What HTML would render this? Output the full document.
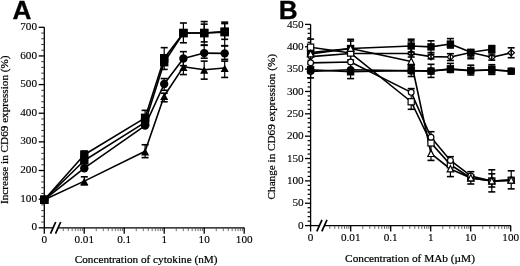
<!DOCTYPE html><html><head><meta charset="utf-8"><style>html,body{margin:0;padding:0;background:#fff;}svg{display:block;filter:grayscale(1);}</style></head><body>
<svg width="520" height="266" viewBox="0 0 520 266">
<rect width="520" height="266" fill="#fff"/>
<line x1="44.3" y1="27.3" x2="44.3" y2="233.7" stroke="#000" stroke-width="1.3"/>
<line x1="38.7" y1="227.8" x2="44.3" y2="227.8" stroke="#000" stroke-width="1.3"/>
<line x1="41.3" y1="222.07" x2="44.3" y2="222.07" stroke="#333" stroke-width="1.0"/>
<line x1="41.3" y1="216.34" x2="44.3" y2="216.34" stroke="#333" stroke-width="1.0"/>
<line x1="41.3" y1="210.61" x2="44.3" y2="210.61" stroke="#333" stroke-width="1.0"/>
<line x1="41.3" y1="204.89" x2="44.3" y2="204.89" stroke="#333" stroke-width="1.0"/>
<line x1="38.7" y1="199.16" x2="44.3" y2="199.16" stroke="#000" stroke-width="1.3"/>
<line x1="41.3" y1="193.43" x2="44.3" y2="193.43" stroke="#333" stroke-width="1.0"/>
<line x1="41.3" y1="187.7" x2="44.3" y2="187.7" stroke="#333" stroke-width="1.0"/>
<line x1="41.3" y1="181.97" x2="44.3" y2="181.97" stroke="#333" stroke-width="1.0"/>
<line x1="41.3" y1="176.24" x2="44.3" y2="176.24" stroke="#333" stroke-width="1.0"/>
<line x1="38.7" y1="170.51" x2="44.3" y2="170.51" stroke="#000" stroke-width="1.3"/>
<line x1="41.3" y1="164.79" x2="44.3" y2="164.79" stroke="#333" stroke-width="1.0"/>
<line x1="41.3" y1="159.06" x2="44.3" y2="159.06" stroke="#333" stroke-width="1.0"/>
<line x1="41.3" y1="153.33" x2="44.3" y2="153.33" stroke="#333" stroke-width="1.0"/>
<line x1="41.3" y1="147.6" x2="44.3" y2="147.6" stroke="#333" stroke-width="1.0"/>
<line x1="38.7" y1="141.87" x2="44.3" y2="141.87" stroke="#000" stroke-width="1.3"/>
<line x1="41.3" y1="136.14" x2="44.3" y2="136.14" stroke="#333" stroke-width="1.0"/>
<line x1="41.3" y1="130.41" x2="44.3" y2="130.41" stroke="#333" stroke-width="1.0"/>
<line x1="41.3" y1="124.69" x2="44.3" y2="124.69" stroke="#333" stroke-width="1.0"/>
<line x1="41.3" y1="118.96" x2="44.3" y2="118.96" stroke="#333" stroke-width="1.0"/>
<line x1="38.7" y1="113.23" x2="44.3" y2="113.23" stroke="#000" stroke-width="1.3"/>
<line x1="41.3" y1="107.5" x2="44.3" y2="107.5" stroke="#333" stroke-width="1.0"/>
<line x1="41.3" y1="101.77" x2="44.3" y2="101.77" stroke="#333" stroke-width="1.0"/>
<line x1="41.3" y1="96.04" x2="44.3" y2="96.04" stroke="#333" stroke-width="1.0"/>
<line x1="41.3" y1="90.31" x2="44.3" y2="90.31" stroke="#333" stroke-width="1.0"/>
<line x1="38.7" y1="84.59" x2="44.3" y2="84.59" stroke="#000" stroke-width="1.3"/>
<line x1="41.3" y1="78.86" x2="44.3" y2="78.86" stroke="#333" stroke-width="1.0"/>
<line x1="41.3" y1="73.13" x2="44.3" y2="73.13" stroke="#333" stroke-width="1.0"/>
<line x1="41.3" y1="67.4" x2="44.3" y2="67.4" stroke="#333" stroke-width="1.0"/>
<line x1="41.3" y1="61.67" x2="44.3" y2="61.67" stroke="#333" stroke-width="1.0"/>
<line x1="38.7" y1="55.94" x2="44.3" y2="55.94" stroke="#000" stroke-width="1.3"/>
<line x1="41.3" y1="50.21" x2="44.3" y2="50.21" stroke="#333" stroke-width="1.0"/>
<line x1="41.3" y1="44.49" x2="44.3" y2="44.49" stroke="#333" stroke-width="1.0"/>
<line x1="41.3" y1="38.76" x2="44.3" y2="38.76" stroke="#333" stroke-width="1.0"/>
<line x1="41.3" y1="33.03" x2="44.3" y2="33.03" stroke="#333" stroke-width="1.0"/>
<line x1="38.7" y1="27.3" x2="44.3" y2="27.3" stroke="#000" stroke-width="1.3"/>
<text transform="translate(37,230.4) scale(0.1)" text-anchor="end" font-family="Liberation Serif" font-weight="normal" font-size="112" stroke="#000" stroke-width="1.2">0</text>
<text transform="translate(37,201.76) scale(0.1)" text-anchor="end" font-family="Liberation Serif" font-weight="normal" font-size="112" stroke="#000" stroke-width="1.2">100</text>
<text transform="translate(37,173.11) scale(0.1)" text-anchor="end" font-family="Liberation Serif" font-weight="normal" font-size="112" stroke="#000" stroke-width="1.2">200</text>
<text transform="translate(37,144.47) scale(0.1)" text-anchor="end" font-family="Liberation Serif" font-weight="normal" font-size="112" stroke="#000" stroke-width="1.2">300</text>
<text transform="translate(37,115.83) scale(0.1)" text-anchor="end" font-family="Liberation Serif" font-weight="normal" font-size="112" stroke="#000" stroke-width="1.2">400</text>
<text transform="translate(37,87.19) scale(0.1)" text-anchor="end" font-family="Liberation Serif" font-weight="normal" font-size="112" stroke="#000" stroke-width="1.2">500</text>
<text transform="translate(37,58.54) scale(0.1)" text-anchor="end" font-family="Liberation Serif" font-weight="normal" font-size="112" stroke="#000" stroke-width="1.2">600</text>
<text transform="translate(37,29.9) scale(0.1)" text-anchor="end" font-family="Liberation Serif" font-weight="normal" font-size="112" stroke="#000" stroke-width="1.2">700</text>
<line x1="44.3" y1="227.8" x2="53" y2="227.8" stroke="#000" stroke-width="1.3"/>
<line x1="58" y1="227.8" x2="244.4" y2="227.8" stroke="#000" stroke-width="1.3"/>
<line x1="50.5" y1="233.6" x2="55.7" y2="222" stroke="#000" stroke-width="1.7"/>
<line x1="55.5" y1="233.6" x2="60.7" y2="222" stroke="#000" stroke-width="1.7"/>
<line x1="63.28" y1="227.8" x2="63.28" y2="231.1" stroke="#444" stroke-width="0.8"/>
<line x1="68.28" y1="227.8" x2="68.28" y2="231.1" stroke="#444" stroke-width="0.8"/>
<line x1="72.16" y1="227.8" x2="72.16" y2="231.1" stroke="#444" stroke-width="0.8"/>
<line x1="75.33" y1="227.8" x2="75.33" y2="231.1" stroke="#444" stroke-width="0.8"/>
<line x1="78" y1="227.8" x2="78" y2="231.1" stroke="#444" stroke-width="0.8"/>
<line x1="80.32" y1="227.8" x2="80.32" y2="231.1" stroke="#444" stroke-width="0.8"/>
<line x1="82.37" y1="227.8" x2="82.37" y2="231.1" stroke="#444" stroke-width="0.8"/>
<line x1="84.2" y1="227.8" x2="84.2" y2="233.7" stroke="#000" stroke-width="1.3"/>
<line x1="96.24" y1="227.8" x2="96.24" y2="231.1" stroke="#444" stroke-width="0.8"/>
<line x1="103.28" y1="227.8" x2="103.28" y2="231.1" stroke="#444" stroke-width="0.8"/>
<line x1="108.28" y1="227.8" x2="108.28" y2="231.1" stroke="#444" stroke-width="0.8"/>
<line x1="112.16" y1="227.8" x2="112.16" y2="231.1" stroke="#444" stroke-width="0.8"/>
<line x1="115.33" y1="227.8" x2="115.33" y2="231.1" stroke="#444" stroke-width="0.8"/>
<line x1="118" y1="227.8" x2="118" y2="231.1" stroke="#444" stroke-width="0.8"/>
<line x1="120.32" y1="227.8" x2="120.32" y2="231.1" stroke="#444" stroke-width="0.8"/>
<line x1="122.37" y1="227.8" x2="122.37" y2="231.1" stroke="#444" stroke-width="0.8"/>
<line x1="124.2" y1="227.8" x2="124.2" y2="233.7" stroke="#000" stroke-width="1.3"/>
<line x1="136.24" y1="227.8" x2="136.24" y2="231.1" stroke="#444" stroke-width="0.8"/>
<line x1="143.28" y1="227.8" x2="143.28" y2="231.1" stroke="#444" stroke-width="0.8"/>
<line x1="148.28" y1="227.8" x2="148.28" y2="231.1" stroke="#444" stroke-width="0.8"/>
<line x1="152.16" y1="227.8" x2="152.16" y2="231.1" stroke="#444" stroke-width="0.8"/>
<line x1="155.33" y1="227.8" x2="155.33" y2="231.1" stroke="#444" stroke-width="0.8"/>
<line x1="158" y1="227.8" x2="158" y2="231.1" stroke="#444" stroke-width="0.8"/>
<line x1="160.32" y1="227.8" x2="160.32" y2="231.1" stroke="#444" stroke-width="0.8"/>
<line x1="162.37" y1="227.8" x2="162.37" y2="231.1" stroke="#444" stroke-width="0.8"/>
<line x1="164.2" y1="227.8" x2="164.2" y2="233.7" stroke="#000" stroke-width="1.3"/>
<line x1="176.24" y1="227.8" x2="176.24" y2="231.1" stroke="#444" stroke-width="0.8"/>
<line x1="183.28" y1="227.8" x2="183.28" y2="231.1" stroke="#444" stroke-width="0.8"/>
<line x1="188.28" y1="227.8" x2="188.28" y2="231.1" stroke="#444" stroke-width="0.8"/>
<line x1="192.16" y1="227.8" x2="192.16" y2="231.1" stroke="#444" stroke-width="0.8"/>
<line x1="195.33" y1="227.8" x2="195.33" y2="231.1" stroke="#444" stroke-width="0.8"/>
<line x1="198" y1="227.8" x2="198" y2="231.1" stroke="#444" stroke-width="0.8"/>
<line x1="200.32" y1="227.8" x2="200.32" y2="231.1" stroke="#444" stroke-width="0.8"/>
<line x1="202.37" y1="227.8" x2="202.37" y2="231.1" stroke="#444" stroke-width="0.8"/>
<line x1="204.2" y1="227.8" x2="204.2" y2="233.7" stroke="#000" stroke-width="1.3"/>
<line x1="216.24" y1="227.8" x2="216.24" y2="231.1" stroke="#444" stroke-width="0.8"/>
<line x1="223.28" y1="227.8" x2="223.28" y2="231.1" stroke="#444" stroke-width="0.8"/>
<line x1="228.28" y1="227.8" x2="228.28" y2="231.1" stroke="#444" stroke-width="0.8"/>
<line x1="232.16" y1="227.8" x2="232.16" y2="231.1" stroke="#444" stroke-width="0.8"/>
<line x1="235.33" y1="227.8" x2="235.33" y2="231.1" stroke="#444" stroke-width="0.8"/>
<line x1="238" y1="227.8" x2="238" y2="231.1" stroke="#444" stroke-width="0.8"/>
<line x1="240.32" y1="227.8" x2="240.32" y2="231.1" stroke="#444" stroke-width="0.8"/>
<line x1="242.37" y1="227.8" x2="242.37" y2="231.1" stroke="#444" stroke-width="0.8"/>
<line x1="244.2" y1="227.8" x2="244.2" y2="233.7" stroke="#000" stroke-width="1.3"/>
<text transform="translate(44.3,243.3) scale(0.1)" text-anchor="middle" font-family="Liberation Serif" font-weight="normal" font-size="112" stroke="#000" stroke-width="1.2">0</text>
<text transform="translate(84.2,243.3) scale(0.1)" text-anchor="middle" font-family="Liberation Serif" font-weight="normal" font-size="112" stroke="#000" stroke-width="1.2">0.01</text>
<text transform="translate(124.2,243.3) scale(0.1)" text-anchor="middle" font-family="Liberation Serif" font-weight="normal" font-size="112" stroke="#000" stroke-width="1.2">0.1</text>
<text transform="translate(164.2,243.3) scale(0.1)" text-anchor="middle" font-family="Liberation Serif" font-weight="normal" font-size="112" stroke="#000" stroke-width="1.2">1</text>
<text transform="translate(204.2,243.3) scale(0.1)" text-anchor="middle" font-family="Liberation Serif" font-weight="normal" font-size="112" stroke="#000" stroke-width="1.2">10</text>
<text transform="translate(244.2,243.3) scale(0.1)" text-anchor="middle" font-family="Liberation Serif" font-weight="normal" font-size="112" stroke="#000" stroke-width="1.2">100</text>
<text transform="translate(146.1,263) scale(0.1)" text-anchor="middle" font-family="Liberation Serif" font-weight="normal" font-size="112" stroke="#000" stroke-width="2.2">Concentration of cytokine (nM)</text>
<text transform="translate(8.2,129.7) rotate(-90) scale(0.1)" text-anchor="middle" font-family="Liberation Serif" font-weight="normal" font-size="112" stroke="#000" stroke-width="2.2">Increase in CD69 expression (%)</text>
<text transform="translate(12.4,18.6) scale(0.1)" text-anchor="start" font-family="Liberation Sans" font-weight="bold" font-size="262" stroke="#000" stroke-width="3">A</text>
<polyline points="44.3,199.73 84.3,154.76 145.1,117.81 164.2,58.23 183.4,33.03 204.2,33.03 224.7,31.6" fill="none" stroke="#000" stroke-width="1.6" stroke-linejoin="round"/>
<polyline points="44.3,199.73 84.3,160.49 145.1,122.39 164.2,62.24 183.4,33.03 204.2,33.03 224.7,32.17" fill="none" stroke="#000" stroke-width="1.6" stroke-linejoin="round"/>
<polyline points="44.3,199.73 84.3,168.22 145.1,125.55 164.2,84.01 183.4,58.52 204.2,53.08 224.7,53.37" fill="none" stroke="#000" stroke-width="1.6" stroke-linejoin="round"/>
<polyline points="44.3,199.73 84.3,181.11 145.1,151.32 164.2,96.04 183.4,66.83 204.2,69.69 224.7,67.97" fill="none" stroke="#000" stroke-width="1.6" stroke-linejoin="round"/>
<line x1="84.3" y1="151.04" x2="84.3" y2="159.06" stroke="#000" stroke-width="1.2"/>
<line x1="80.8" y1="151.04" x2="87.8" y2="151.04" stroke="#000" stroke-width="1.6"/>
<line x1="80.8" y1="159.06" x2="87.8" y2="159.06" stroke="#000" stroke-width="1.6"/>
<line x1="145.1" y1="110.36" x2="145.1" y2="121.82" stroke="#000" stroke-width="1.2"/>
<line x1="141.6" y1="110.36" x2="148.6" y2="110.36" stroke="#000" stroke-width="1.6"/>
<line x1="141.6" y1="121.82" x2="148.6" y2="121.82" stroke="#000" stroke-width="1.6"/>
<line x1="164.2" y1="47.64" x2="164.2" y2="64.54" stroke="#000" stroke-width="1.2"/>
<line x1="160.7" y1="47.64" x2="167.7" y2="47.64" stroke="#000" stroke-width="1.6"/>
<line x1="160.7" y1="64.54" x2="167.7" y2="64.54" stroke="#000" stroke-width="1.6"/>
<line x1="183.4" y1="23" x2="183.4" y2="42.77" stroke="#000" stroke-width="1.2"/>
<line x1="179.9" y1="23" x2="186.9" y2="23" stroke="#000" stroke-width="1.6"/>
<line x1="179.9" y1="42.77" x2="186.9" y2="42.77" stroke="#000" stroke-width="1.6"/>
<line x1="204.2" y1="21.57" x2="204.2" y2="41.91" stroke="#000" stroke-width="1.2"/>
<line x1="200.7" y1="21.57" x2="207.7" y2="21.57" stroke="#000" stroke-width="1.6"/>
<line x1="200.7" y1="41.91" x2="207.7" y2="41.91" stroke="#000" stroke-width="1.6"/>
<line x1="224.7" y1="22.14" x2="224.7" y2="39.33" stroke="#000" stroke-width="1.2"/>
<line x1="221.2" y1="22.14" x2="228.2" y2="22.14" stroke="#000" stroke-width="1.6"/>
<line x1="221.2" y1="39.33" x2="228.2" y2="39.33" stroke="#000" stroke-width="1.6"/>
<line x1="164.2" y1="55.94" x2="164.2" y2="69.41" stroke="#000" stroke-width="1.2"/>
<line x1="160.7" y1="55.94" x2="167.7" y2="55.94" stroke="#000" stroke-width="1.6"/>
<line x1="160.7" y1="69.41" x2="167.7" y2="69.41" stroke="#000" stroke-width="1.6"/>
<line x1="204.2" y1="24.15" x2="204.2" y2="45.34" stroke="#000" stroke-width="1.2"/>
<line x1="200.7" y1="24.15" x2="207.7" y2="24.15" stroke="#000" stroke-width="1.6"/>
<line x1="200.7" y1="45.34" x2="207.7" y2="45.34" stroke="#000" stroke-width="1.6"/>
<line x1="224.7" y1="23.58" x2="224.7" y2="45.63" stroke="#000" stroke-width="1.2"/>
<line x1="221.2" y1="23.58" x2="228.2" y2="23.58" stroke="#000" stroke-width="1.6"/>
<line x1="221.2" y1="45.63" x2="228.2" y2="45.63" stroke="#000" stroke-width="1.6"/>
<line x1="164.2" y1="78.57" x2="164.2" y2="90.31" stroke="#000" stroke-width="1.2"/>
<line x1="160.7" y1="78.57" x2="167.7" y2="78.57" stroke="#000" stroke-width="1.6"/>
<line x1="160.7" y1="90.31" x2="167.7" y2="90.31" stroke="#000" stroke-width="1.6"/>
<line x1="183.4" y1="51.65" x2="183.4" y2="65.68" stroke="#000" stroke-width="1.2"/>
<line x1="179.9" y1="51.65" x2="186.9" y2="51.65" stroke="#000" stroke-width="1.6"/>
<line x1="179.9" y1="65.68" x2="186.9" y2="65.68" stroke="#000" stroke-width="1.6"/>
<line x1="204.2" y1="45.06" x2="204.2" y2="58.23" stroke="#000" stroke-width="1.2"/>
<line x1="200.7" y1="45.06" x2="207.7" y2="45.06" stroke="#000" stroke-width="1.6"/>
<line x1="200.7" y1="58.23" x2="207.7" y2="58.23" stroke="#000" stroke-width="1.6"/>
<line x1="224.7" y1="45.92" x2="224.7" y2="59.38" stroke="#000" stroke-width="1.2"/>
<line x1="221.2" y1="45.92" x2="228.2" y2="45.92" stroke="#000" stroke-width="1.6"/>
<line x1="221.2" y1="59.38" x2="228.2" y2="59.38" stroke="#000" stroke-width="1.6"/>
<line x1="84.3" y1="176.82" x2="84.3" y2="184.84" stroke="#000" stroke-width="1.2"/>
<line x1="80.8" y1="176.82" x2="87.8" y2="176.82" stroke="#000" stroke-width="1.6"/>
<line x1="80.8" y1="184.84" x2="87.8" y2="184.84" stroke="#000" stroke-width="1.6"/>
<line x1="145.1" y1="144.74" x2="145.1" y2="157.62" stroke="#000" stroke-width="1.2"/>
<line x1="141.6" y1="144.74" x2="148.6" y2="144.74" stroke="#000" stroke-width="1.6"/>
<line x1="141.6" y1="157.62" x2="148.6" y2="157.62" stroke="#000" stroke-width="1.6"/>
<line x1="164.2" y1="93.18" x2="164.2" y2="101.77" stroke="#000" stroke-width="1.2"/>
<line x1="160.7" y1="93.18" x2="167.7" y2="93.18" stroke="#000" stroke-width="1.6"/>
<line x1="160.7" y1="101.77" x2="167.7" y2="101.77" stroke="#000" stroke-width="1.6"/>
<line x1="183.4" y1="60.24" x2="183.4" y2="74.56" stroke="#000" stroke-width="1.2"/>
<line x1="179.9" y1="60.24" x2="186.9" y2="60.24" stroke="#000" stroke-width="1.6"/>
<line x1="179.9" y1="74.56" x2="186.9" y2="74.56" stroke="#000" stroke-width="1.6"/>
<line x1="204.2" y1="61.1" x2="204.2" y2="79.14" stroke="#000" stroke-width="1.2"/>
<line x1="200.7" y1="61.1" x2="207.7" y2="61.1" stroke="#000" stroke-width="1.6"/>
<line x1="200.7" y1="79.14" x2="207.7" y2="79.14" stroke="#000" stroke-width="1.6"/>
<line x1="224.7" y1="61.1" x2="224.7" y2="77.43" stroke="#000" stroke-width="1.2"/>
<line x1="221.2" y1="61.1" x2="228.2" y2="61.1" stroke="#000" stroke-width="1.6"/>
<line x1="221.2" y1="77.43" x2="228.2" y2="77.43" stroke="#000" stroke-width="1.6"/>
<rect x="40.1" y="195.53" width="8.4" height="8.4" fill="#000"/>
<rect x="80.1" y="150.56" width="8.4" height="8.4" fill="#000"/>
<rect x="140.9" y="113.61" width="8.4" height="8.4" fill="#000"/>
<rect x="160" y="54.03" width="8.4" height="8.4" fill="#000"/>
<rect x="179.2" y="28.83" width="8.4" height="8.4" fill="#000"/>
<rect x="200" y="28.83" width="8.4" height="8.4" fill="#000"/>
<rect x="220.5" y="27.4" width="8.4" height="8.4" fill="#000"/>
<rect x="40.1" y="195.53" width="8.4" height="8.4" fill="#000"/>
<rect x="80.1" y="156.29" width="8.4" height="8.4" fill="#000"/>
<rect x="140.9" y="118.19" width="8.4" height="8.4" fill="#000"/>
<rect x="160" y="58.04" width="8.4" height="8.4" fill="#000"/>
<rect x="179.2" y="28.83" width="8.4" height="8.4" fill="#000"/>
<rect x="200" y="28.83" width="8.4" height="8.4" fill="#000"/>
<rect x="220.5" y="27.97" width="8.4" height="8.4" fill="#000"/>
<circle cx="44.3" cy="199.73" r="4.2" fill="#000"/>
<circle cx="84.3" cy="168.22" r="4.2" fill="#000"/>
<circle cx="145.1" cy="125.55" r="4.2" fill="#000"/>
<circle cx="164.2" cy="84.01" r="4.2" fill="#000"/>
<circle cx="183.4" cy="58.52" r="4.2" fill="#000"/>
<circle cx="204.2" cy="53.08" r="4.2" fill="#000"/>
<circle cx="224.7" cy="53.37" r="4.2" fill="#000"/>
<polygon points="44.3,196.4 48.37,203.8 40.23,203.8" fill="#000"/>
<polygon points="84.3,177.78 88.37,185.18 80.23,185.18" fill="#000"/>
<polygon points="145.1,147.99 149.17,155.39 141.03,155.39" fill="#000"/>
<polygon points="164.2,92.71 168.27,100.11 160.13,100.11" fill="#000"/>
<polygon points="183.4,63.5 187.47,70.9 179.33,70.9" fill="#000"/>
<polygon points="204.2,66.36 208.27,73.76 200.13,73.76" fill="#000"/>
<polygon points="224.7,64.64 228.77,72.04 220.63,72.04" fill="#000"/>
<line x1="310.6" y1="24.4" x2="310.6" y2="231.5" stroke="#000" stroke-width="1.3"/>
<line x1="305" y1="225.6" x2="310.6" y2="225.6" stroke="#000" stroke-width="1.3"/>
<line x1="307.6" y1="221.13" x2="310.6" y2="221.13" stroke="#000" stroke-width="1.2"/>
<line x1="307.6" y1="216.66" x2="310.6" y2="216.66" stroke="#000" stroke-width="1.2"/>
<line x1="307.6" y1="212.19" x2="310.6" y2="212.19" stroke="#000" stroke-width="1.2"/>
<line x1="307.6" y1="207.72" x2="310.6" y2="207.72" stroke="#000" stroke-width="1.2"/>
<line x1="305" y1="203.24" x2="310.6" y2="203.24" stroke="#000" stroke-width="1.3"/>
<line x1="307.6" y1="198.77" x2="310.6" y2="198.77" stroke="#000" stroke-width="1.2"/>
<line x1="307.6" y1="194.3" x2="310.6" y2="194.3" stroke="#000" stroke-width="1.2"/>
<line x1="307.6" y1="189.83" x2="310.6" y2="189.83" stroke="#000" stroke-width="1.2"/>
<line x1="307.6" y1="185.36" x2="310.6" y2="185.36" stroke="#000" stroke-width="1.2"/>
<line x1="305" y1="180.89" x2="310.6" y2="180.89" stroke="#000" stroke-width="1.3"/>
<line x1="307.6" y1="176.42" x2="310.6" y2="176.42" stroke="#000" stroke-width="1.2"/>
<line x1="307.6" y1="171.95" x2="310.6" y2="171.95" stroke="#000" stroke-width="1.2"/>
<line x1="307.6" y1="167.48" x2="310.6" y2="167.48" stroke="#000" stroke-width="1.2"/>
<line x1="307.6" y1="163" x2="310.6" y2="163" stroke="#000" stroke-width="1.2"/>
<line x1="305" y1="158.53" x2="310.6" y2="158.53" stroke="#000" stroke-width="1.3"/>
<line x1="307.6" y1="154.06" x2="310.6" y2="154.06" stroke="#000" stroke-width="1.2"/>
<line x1="307.6" y1="149.59" x2="310.6" y2="149.59" stroke="#000" stroke-width="1.2"/>
<line x1="307.6" y1="145.12" x2="310.6" y2="145.12" stroke="#000" stroke-width="1.2"/>
<line x1="307.6" y1="140.65" x2="310.6" y2="140.65" stroke="#000" stroke-width="1.2"/>
<line x1="305" y1="136.18" x2="310.6" y2="136.18" stroke="#000" stroke-width="1.3"/>
<line x1="307.6" y1="131.71" x2="310.6" y2="131.71" stroke="#000" stroke-width="1.2"/>
<line x1="307.6" y1="127.24" x2="310.6" y2="127.24" stroke="#000" stroke-width="1.2"/>
<line x1="307.6" y1="122.76" x2="310.6" y2="122.76" stroke="#000" stroke-width="1.2"/>
<line x1="307.6" y1="118.29" x2="310.6" y2="118.29" stroke="#000" stroke-width="1.2"/>
<line x1="305" y1="113.82" x2="310.6" y2="113.82" stroke="#000" stroke-width="1.3"/>
<line x1="307.6" y1="109.35" x2="310.6" y2="109.35" stroke="#000" stroke-width="1.2"/>
<line x1="307.6" y1="104.88" x2="310.6" y2="104.88" stroke="#000" stroke-width="1.2"/>
<line x1="307.6" y1="100.41" x2="310.6" y2="100.41" stroke="#000" stroke-width="1.2"/>
<line x1="307.6" y1="95.94" x2="310.6" y2="95.94" stroke="#000" stroke-width="1.2"/>
<line x1="305" y1="91.47" x2="310.6" y2="91.47" stroke="#000" stroke-width="1.3"/>
<line x1="307.6" y1="87" x2="310.6" y2="87" stroke="#000" stroke-width="1.2"/>
<line x1="307.6" y1="82.52" x2="310.6" y2="82.52" stroke="#000" stroke-width="1.2"/>
<line x1="307.6" y1="78.05" x2="310.6" y2="78.05" stroke="#000" stroke-width="1.2"/>
<line x1="307.6" y1="73.58" x2="310.6" y2="73.58" stroke="#000" stroke-width="1.2"/>
<line x1="305" y1="69.11" x2="310.6" y2="69.11" stroke="#000" stroke-width="1.3"/>
<line x1="307.6" y1="64.64" x2="310.6" y2="64.64" stroke="#000" stroke-width="1.2"/>
<line x1="307.6" y1="60.17" x2="310.6" y2="60.17" stroke="#000" stroke-width="1.2"/>
<line x1="307.6" y1="55.7" x2="310.6" y2="55.7" stroke="#000" stroke-width="1.2"/>
<line x1="307.6" y1="51.23" x2="310.6" y2="51.23" stroke="#000" stroke-width="1.2"/>
<line x1="305" y1="46.76" x2="310.6" y2="46.76" stroke="#000" stroke-width="1.3"/>
<line x1="307.6" y1="42.28" x2="310.6" y2="42.28" stroke="#000" stroke-width="1.2"/>
<line x1="307.6" y1="37.81" x2="310.6" y2="37.81" stroke="#000" stroke-width="1.2"/>
<line x1="307.6" y1="33.34" x2="310.6" y2="33.34" stroke="#000" stroke-width="1.2"/>
<line x1="307.6" y1="28.87" x2="310.6" y2="28.87" stroke="#000" stroke-width="1.2"/>
<line x1="305" y1="24.4" x2="310.6" y2="24.4" stroke="#000" stroke-width="1.3"/>
<text transform="translate(303.7,228.7) scale(0.1)" text-anchor="end" font-family="Liberation Serif" font-weight="normal" font-size="112" stroke="#000" stroke-width="1.2">0</text>
<text transform="translate(303.7,206.34) scale(0.1)" text-anchor="end" font-family="Liberation Serif" font-weight="normal" font-size="112" stroke="#000" stroke-width="1.2">50</text>
<text transform="translate(303.7,183.99) scale(0.1)" text-anchor="end" font-family="Liberation Serif" font-weight="normal" font-size="112" stroke="#000" stroke-width="1.2">100</text>
<text transform="translate(303.7,161.63) scale(0.1)" text-anchor="end" font-family="Liberation Serif" font-weight="normal" font-size="112" stroke="#000" stroke-width="1.2">150</text>
<text transform="translate(303.7,139.28) scale(0.1)" text-anchor="end" font-family="Liberation Serif" font-weight="normal" font-size="112" stroke="#000" stroke-width="1.2">200</text>
<text transform="translate(303.7,116.92) scale(0.1)" text-anchor="end" font-family="Liberation Serif" font-weight="normal" font-size="112" stroke="#000" stroke-width="1.2">250</text>
<text transform="translate(303.7,94.57) scale(0.1)" text-anchor="end" font-family="Liberation Serif" font-weight="normal" font-size="112" stroke="#000" stroke-width="1.2">300</text>
<text transform="translate(303.7,72.21) scale(0.1)" text-anchor="end" font-family="Liberation Serif" font-weight="normal" font-size="112" stroke="#000" stroke-width="1.2">350</text>
<text transform="translate(303.7,49.86) scale(0.1)" text-anchor="end" font-family="Liberation Serif" font-weight="normal" font-size="112" stroke="#000" stroke-width="1.2">400</text>
<text transform="translate(303.7,27.5) scale(0.1)" text-anchor="end" font-family="Liberation Serif" font-weight="normal" font-size="112" stroke="#000" stroke-width="1.2">450</text>
<line x1="310.6" y1="225.6" x2="319.3" y2="225.6" stroke="#000" stroke-width="1.3"/>
<line x1="324.3" y1="225.6" x2="510.8" y2="225.6" stroke="#000" stroke-width="1.3"/>
<line x1="316.8" y1="231.4" x2="322" y2="219.8" stroke="#000" stroke-width="1.7"/>
<line x1="321.8" y1="231.4" x2="327" y2="219.8" stroke="#000" stroke-width="1.7"/>
<line x1="329.78" y1="225.6" x2="329.78" y2="228.9" stroke="#444" stroke-width="0.8"/>
<line x1="334.78" y1="225.6" x2="334.78" y2="228.9" stroke="#444" stroke-width="0.8"/>
<line x1="338.66" y1="225.6" x2="338.66" y2="228.9" stroke="#444" stroke-width="0.8"/>
<line x1="341.83" y1="225.6" x2="341.83" y2="228.9" stroke="#444" stroke-width="0.8"/>
<line x1="344.5" y1="225.6" x2="344.5" y2="228.9" stroke="#444" stroke-width="0.8"/>
<line x1="346.82" y1="225.6" x2="346.82" y2="228.9" stroke="#444" stroke-width="0.8"/>
<line x1="348.87" y1="225.6" x2="348.87" y2="228.9" stroke="#444" stroke-width="0.8"/>
<line x1="350.7" y1="225.6" x2="350.7" y2="231.5" stroke="#000" stroke-width="1.3"/>
<line x1="362.74" y1="225.6" x2="362.74" y2="228.9" stroke="#444" stroke-width="0.8"/>
<line x1="369.78" y1="225.6" x2="369.78" y2="228.9" stroke="#444" stroke-width="0.8"/>
<line x1="374.78" y1="225.6" x2="374.78" y2="228.9" stroke="#444" stroke-width="0.8"/>
<line x1="378.66" y1="225.6" x2="378.66" y2="228.9" stroke="#444" stroke-width="0.8"/>
<line x1="381.83" y1="225.6" x2="381.83" y2="228.9" stroke="#444" stroke-width="0.8"/>
<line x1="384.5" y1="225.6" x2="384.5" y2="228.9" stroke="#444" stroke-width="0.8"/>
<line x1="386.82" y1="225.6" x2="386.82" y2="228.9" stroke="#444" stroke-width="0.8"/>
<line x1="388.87" y1="225.6" x2="388.87" y2="228.9" stroke="#444" stroke-width="0.8"/>
<line x1="390.7" y1="225.6" x2="390.7" y2="231.5" stroke="#000" stroke-width="1.3"/>
<line x1="402.74" y1="225.6" x2="402.74" y2="228.9" stroke="#444" stroke-width="0.8"/>
<line x1="409.78" y1="225.6" x2="409.78" y2="228.9" stroke="#444" stroke-width="0.8"/>
<line x1="414.78" y1="225.6" x2="414.78" y2="228.9" stroke="#444" stroke-width="0.8"/>
<line x1="418.66" y1="225.6" x2="418.66" y2="228.9" stroke="#444" stroke-width="0.8"/>
<line x1="421.83" y1="225.6" x2="421.83" y2="228.9" stroke="#444" stroke-width="0.8"/>
<line x1="424.5" y1="225.6" x2="424.5" y2="228.9" stroke="#444" stroke-width="0.8"/>
<line x1="426.82" y1="225.6" x2="426.82" y2="228.9" stroke="#444" stroke-width="0.8"/>
<line x1="428.87" y1="225.6" x2="428.87" y2="228.9" stroke="#444" stroke-width="0.8"/>
<line x1="430.7" y1="225.6" x2="430.7" y2="231.5" stroke="#000" stroke-width="1.3"/>
<line x1="442.74" y1="225.6" x2="442.74" y2="228.9" stroke="#444" stroke-width="0.8"/>
<line x1="449.78" y1="225.6" x2="449.78" y2="228.9" stroke="#444" stroke-width="0.8"/>
<line x1="454.78" y1="225.6" x2="454.78" y2="228.9" stroke="#444" stroke-width="0.8"/>
<line x1="458.66" y1="225.6" x2="458.66" y2="228.9" stroke="#444" stroke-width="0.8"/>
<line x1="461.83" y1="225.6" x2="461.83" y2="228.9" stroke="#444" stroke-width="0.8"/>
<line x1="464.5" y1="225.6" x2="464.5" y2="228.9" stroke="#444" stroke-width="0.8"/>
<line x1="466.82" y1="225.6" x2="466.82" y2="228.9" stroke="#444" stroke-width="0.8"/>
<line x1="468.87" y1="225.6" x2="468.87" y2="228.9" stroke="#444" stroke-width="0.8"/>
<line x1="470.7" y1="225.6" x2="470.7" y2="231.5" stroke="#000" stroke-width="1.3"/>
<line x1="482.74" y1="225.6" x2="482.74" y2="228.9" stroke="#444" stroke-width="0.8"/>
<line x1="489.78" y1="225.6" x2="489.78" y2="228.9" stroke="#444" stroke-width="0.8"/>
<line x1="494.78" y1="225.6" x2="494.78" y2="228.9" stroke="#444" stroke-width="0.8"/>
<line x1="498.66" y1="225.6" x2="498.66" y2="228.9" stroke="#444" stroke-width="0.8"/>
<line x1="501.83" y1="225.6" x2="501.83" y2="228.9" stroke="#444" stroke-width="0.8"/>
<line x1="504.5" y1="225.6" x2="504.5" y2="228.9" stroke="#444" stroke-width="0.8"/>
<line x1="506.82" y1="225.6" x2="506.82" y2="228.9" stroke="#444" stroke-width="0.8"/>
<line x1="508.87" y1="225.6" x2="508.87" y2="228.9" stroke="#444" stroke-width="0.8"/>
<line x1="510.7" y1="225.6" x2="510.7" y2="231.5" stroke="#000" stroke-width="1.3"/>
<text transform="translate(310.6,241.1) scale(0.1)" text-anchor="middle" font-family="Liberation Serif" font-weight="normal" font-size="112" stroke="#000" stroke-width="1.2">0</text>
<text transform="translate(350.7,241.1) scale(0.1)" text-anchor="middle" font-family="Liberation Serif" font-weight="normal" font-size="112" stroke="#000" stroke-width="1.2">0.01</text>
<text transform="translate(390.7,241.1) scale(0.1)" text-anchor="middle" font-family="Liberation Serif" font-weight="normal" font-size="112" stroke="#000" stroke-width="1.2">0.1</text>
<text transform="translate(430.7,241.1) scale(0.1)" text-anchor="middle" font-family="Liberation Serif" font-weight="normal" font-size="112" stroke="#000" stroke-width="1.2">1</text>
<text transform="translate(470.7,241.1) scale(0.1)" text-anchor="middle" font-family="Liberation Serif" font-weight="normal" font-size="112" stroke="#000" stroke-width="1.2">10</text>
<text transform="translate(510.7,241.1) scale(0.1)" text-anchor="middle" font-family="Liberation Serif" font-weight="normal" font-size="112" stroke="#000" stroke-width="1.2">100</text>
<text transform="translate(410,262.3) scale(0.1)" text-anchor="middle" font-family="Liberation Serif" font-weight="normal" font-size="113" stroke="#000" stroke-width="2.2">Concentration of MAb (µM)</text>
<text transform="translate(275.2,126.7) rotate(-90) scale(0.1)" text-anchor="middle" font-family="Liberation Serif" font-weight="normal" font-size="112" stroke="#000" stroke-width="2.2">Change in CD69 expression (%)</text>
<text transform="translate(278.8,18.6) scale(0.1)" text-anchor="start" font-family="Liberation Sans" font-weight="bold" font-size="262" stroke="#000" stroke-width="3">B</text>
<polyline points="310.6,52.57 350.6,48.54 411.2,46 431,46.89 450.4,44.07 470.8,52.3 491.8,49.21" fill="none" stroke="#000" stroke-width="1.6" stroke-linejoin="round"/>
<polyline points="310.6,56.59 350.6,53.46 411.2,53.46 431,56.59 450.4,57.04 470.8,52.57 491.8,57.22 511.2,52.79" fill="none" stroke="#000" stroke-width="1.6" stroke-linejoin="round"/>
<polyline points="310.6,69.78 350.6,71.79 411.2,70.45 431,71.12 450.4,68.8 470.8,70.45 491.8,69.69 511.2,71.21" fill="none" stroke="#000" stroke-width="1.6" stroke-linejoin="round"/>
<polyline points="310.6,71.35 350.6,69.78 411.2,70.9 431,70.9 450.4,69.56 470.8,70.68 491.8,70.01 511.2,71.12" fill="none" stroke="#000" stroke-width="1.6" stroke-linejoin="round"/>
<polyline points="310.6,47.2 350.6,53.02 411.2,101.75 431,142.88 450.4,164.79 470.8,177.98 491.8,180.98 511.2,180.31" fill="none" stroke="#000" stroke-width="1.6" stroke-linejoin="round"/>
<polyline points="310.6,62.85 350.6,61.96 411.2,92.36 431,137.3 450.4,160.41 470.8,175.97 491.8,180.98 511.2,179.99" fill="none" stroke="#000" stroke-width="1.6" stroke-linejoin="round"/>
<polyline points="310.6,53.91 350.6,48.54 411.2,61.51 431,153.62 450.4,169 470.8,177.98 491.8,180.98 511.2,180.31" fill="none" stroke="#000" stroke-width="1.6" stroke-linejoin="round"/>
<polygon points="310.6,53.39 313.8,56.59 310.6,59.79 307.4,56.59" fill="#fff" stroke="#000" stroke-width="1.2"/>
<line x1="310.6" y1="53.39" x2="310.6" y2="59.79" stroke="#000" stroke-width="1"/>
<polygon points="350.6,50.26 353.8,53.46 350.6,56.66 347.4,53.46" fill="#fff" stroke="#000" stroke-width="1.2"/>
<line x1="350.6" y1="50.26" x2="350.6" y2="56.66" stroke="#000" stroke-width="1"/>
<polygon points="411.2,50.26 414.4,53.46 411.2,56.66 408,53.46" fill="#fff" stroke="#000" stroke-width="1.2"/>
<line x1="411.2" y1="50.26" x2="411.2" y2="56.66" stroke="#000" stroke-width="1"/>
<polygon points="431,53.39 434.2,56.59 431,59.79 427.8,56.59" fill="#fff" stroke="#000" stroke-width="1.2"/>
<line x1="431" y1="53.39" x2="431" y2="59.79" stroke="#000" stroke-width="1"/>
<polygon points="450.4,53.84 453.6,57.04 450.4,60.24 447.2,57.04" fill="#fff" stroke="#000" stroke-width="1.2"/>
<line x1="450.4" y1="53.84" x2="450.4" y2="60.24" stroke="#000" stroke-width="1"/>
<polygon points="470.8,49.37 474,52.57 470.8,55.77 467.6,52.57" fill="#fff" stroke="#000" stroke-width="1.2"/>
<line x1="470.8" y1="49.37" x2="470.8" y2="55.77" stroke="#000" stroke-width="1"/>
<polygon points="491.8,54.02 495,57.22 491.8,60.42 488.6,57.22" fill="#fff" stroke="#000" stroke-width="1.2"/>
<line x1="491.8" y1="54.02" x2="491.8" y2="60.42" stroke="#000" stroke-width="1"/>
<polygon points="511.2,49.59 514.4,52.79 511.2,55.99 508,52.79" fill="#fff" stroke="#000" stroke-width="1.2"/>
<line x1="511.2" y1="49.59" x2="511.2" y2="55.99" stroke="#000" stroke-width="1"/>
<line x1="310.6" y1="39.1" x2="310.6" y2="77.9" stroke="#000" stroke-width="1.2"/>
<line x1="307.1" y1="39.1" x2="314.1" y2="39.1" stroke="#000" stroke-width="1.6"/>
<line x1="307.1" y1="77.9" x2="314.1" y2="77.9" stroke="#000" stroke-width="1.6"/>
<line x1="350.6" y1="39.3" x2="350.6" y2="78.6" stroke="#000" stroke-width="1.2"/>
<line x1="347.1" y1="39.3" x2="354.1" y2="39.3" stroke="#000" stroke-width="1.6"/>
<line x1="347.1" y1="78.6" x2="354.1" y2="78.6" stroke="#000" stroke-width="1.6"/>
<line x1="350.6" y1="41" x2="350.6" y2="60" stroke="#000" stroke-width="1.2"/>
<line x1="347.1" y1="41" x2="354.1" y2="41" stroke="#000" stroke-width="1.6"/>
<line x1="347.1" y1="60" x2="354.1" y2="60" stroke="#000" stroke-width="1.6"/>
<line x1="411.2" y1="39.2" x2="411.2" y2="52" stroke="#000" stroke-width="1.2"/>
<line x1="407.7" y1="39.2" x2="414.7" y2="39.2" stroke="#000" stroke-width="1.6"/>
<line x1="407.7" y1="52" x2="414.7" y2="52" stroke="#000" stroke-width="1.6"/>
<line x1="411.2" y1="40.9" x2="411.2" y2="54.5" stroke="#000" stroke-width="1.2"/>
<line x1="407.7" y1="40.9" x2="414.7" y2="40.9" stroke="#000" stroke-width="1.6"/>
<line x1="407.7" y1="54.5" x2="414.7" y2="54.5" stroke="#000" stroke-width="1.6"/>
<line x1="411.2" y1="57" x2="411.2" y2="65.5" stroke="#000" stroke-width="1.2"/>
<line x1="407.7" y1="57" x2="414.7" y2="57" stroke="#000" stroke-width="1.6"/>
<line x1="407.7" y1="65.5" x2="414.7" y2="65.5" stroke="#000" stroke-width="1.6"/>
<line x1="411.2" y1="66" x2="411.2" y2="76.5" stroke="#000" stroke-width="1.2"/>
<line x1="407.7" y1="66" x2="414.7" y2="66" stroke="#000" stroke-width="1.6"/>
<line x1="407.7" y1="76.5" x2="414.7" y2="76.5" stroke="#000" stroke-width="1.6"/>
<line x1="411.2" y1="88.6" x2="411.2" y2="109.3" stroke="#000" stroke-width="1.2"/>
<line x1="407.7" y1="88.6" x2="414.7" y2="88.6" stroke="#000" stroke-width="1.6"/>
<line x1="407.7" y1="109.3" x2="414.7" y2="109.3" stroke="#000" stroke-width="1.6"/>
<line x1="431" y1="40.8" x2="431" y2="52.6" stroke="#000" stroke-width="1.2"/>
<line x1="427.5" y1="40.8" x2="434.5" y2="40.8" stroke="#000" stroke-width="1.6"/>
<line x1="427.5" y1="52.6" x2="434.5" y2="52.6" stroke="#000" stroke-width="1.6"/>
<line x1="431" y1="54.4" x2="431" y2="58.9" stroke="#000" stroke-width="1.2"/>
<line x1="427.5" y1="54.4" x2="434.5" y2="54.4" stroke="#000" stroke-width="1.6"/>
<line x1="427.5" y1="58.9" x2="434.5" y2="58.9" stroke="#000" stroke-width="1.6"/>
<line x1="431" y1="64.3" x2="431" y2="77.4" stroke="#000" stroke-width="1.2"/>
<line x1="427.5" y1="64.3" x2="434.5" y2="64.3" stroke="#000" stroke-width="1.6"/>
<line x1="427.5" y1="77.4" x2="434.5" y2="77.4" stroke="#000" stroke-width="1.6"/>
<line x1="431" y1="131.7" x2="431" y2="160.4" stroke="#000" stroke-width="1.2"/>
<line x1="427.5" y1="131.7" x2="434.5" y2="131.7" stroke="#000" stroke-width="1.6"/>
<line x1="427.5" y1="160.4" x2="434.5" y2="160.4" stroke="#000" stroke-width="1.6"/>
<line x1="450.4" y1="38.6" x2="450.4" y2="48" stroke="#000" stroke-width="1.2"/>
<line x1="446.9" y1="38.6" x2="453.9" y2="38.6" stroke="#000" stroke-width="1.6"/>
<line x1="446.9" y1="48" x2="453.9" y2="48" stroke="#000" stroke-width="1.6"/>
<line x1="450.4" y1="53.7" x2="450.4" y2="60.5" stroke="#000" stroke-width="1.2"/>
<line x1="446.9" y1="53.7" x2="453.9" y2="53.7" stroke="#000" stroke-width="1.6"/>
<line x1="446.9" y1="60.5" x2="453.9" y2="60.5" stroke="#000" stroke-width="1.6"/>
<line x1="450.4" y1="63.4" x2="450.4" y2="72.4" stroke="#000" stroke-width="1.2"/>
<line x1="446.9" y1="63.4" x2="453.9" y2="63.4" stroke="#000" stroke-width="1.6"/>
<line x1="446.9" y1="72.4" x2="453.9" y2="72.4" stroke="#000" stroke-width="1.6"/>
<line x1="450.4" y1="156.7" x2="450.4" y2="176.6" stroke="#000" stroke-width="1.2"/>
<line x1="446.9" y1="156.7" x2="453.9" y2="156.7" stroke="#000" stroke-width="1.6"/>
<line x1="446.9" y1="176.6" x2="453.9" y2="176.6" stroke="#000" stroke-width="1.6"/>
<line x1="470.8" y1="50" x2="470.8" y2="57" stroke="#000" stroke-width="1.2"/>
<line x1="467.3" y1="50" x2="474.3" y2="50" stroke="#000" stroke-width="1.6"/>
<line x1="467.3" y1="57" x2="474.3" y2="57" stroke="#000" stroke-width="1.6"/>
<line x1="470.8" y1="51" x2="470.8" y2="58.7" stroke="#000" stroke-width="1.2"/>
<line x1="467.3" y1="51" x2="474.3" y2="51" stroke="#000" stroke-width="1.6"/>
<line x1="467.3" y1="58.7" x2="474.3" y2="58.7" stroke="#000" stroke-width="1.6"/>
<line x1="470.8" y1="65.2" x2="470.8" y2="75" stroke="#000" stroke-width="1.2"/>
<line x1="467.3" y1="65.2" x2="474.3" y2="65.2" stroke="#000" stroke-width="1.6"/>
<line x1="467.3" y1="75" x2="474.3" y2="75" stroke="#000" stroke-width="1.6"/>
<line x1="470.8" y1="171.7" x2="470.8" y2="184" stroke="#000" stroke-width="1.2"/>
<line x1="467.3" y1="171.7" x2="474.3" y2="171.7" stroke="#000" stroke-width="1.6"/>
<line x1="467.3" y1="184" x2="474.3" y2="184" stroke="#000" stroke-width="1.6"/>
<line x1="491.8" y1="45.6" x2="491.8" y2="53" stroke="#000" stroke-width="1.2"/>
<line x1="488.3" y1="45.6" x2="495.3" y2="45.6" stroke="#000" stroke-width="1.6"/>
<line x1="488.3" y1="53" x2="495.3" y2="53" stroke="#000" stroke-width="1.6"/>
<line x1="491.8" y1="55" x2="491.8" y2="60.1" stroke="#000" stroke-width="1.2"/>
<line x1="488.3" y1="55" x2="495.3" y2="55" stroke="#000" stroke-width="1.6"/>
<line x1="488.3" y1="60.1" x2="495.3" y2="60.1" stroke="#000" stroke-width="1.6"/>
<line x1="491.8" y1="64.7" x2="491.8" y2="74.3" stroke="#000" stroke-width="1.2"/>
<line x1="488.3" y1="64.7" x2="495.3" y2="64.7" stroke="#000" stroke-width="1.6"/>
<line x1="488.3" y1="74.3" x2="495.3" y2="74.3" stroke="#000" stroke-width="1.6"/>
<line x1="491.8" y1="66.3" x2="491.8" y2="74.3" stroke="#000" stroke-width="1.2"/>
<line x1="488.3" y1="66.3" x2="495.3" y2="66.3" stroke="#000" stroke-width="1.6"/>
<line x1="488.3" y1="74.3" x2="495.3" y2="74.3" stroke="#000" stroke-width="1.6"/>
<line x1="491.8" y1="169.8" x2="491.8" y2="191.9" stroke="#000" stroke-width="1.2"/>
<line x1="488.3" y1="169.8" x2="495.3" y2="169.8" stroke="#000" stroke-width="1.6"/>
<line x1="488.3" y1="191.9" x2="495.3" y2="191.9" stroke="#000" stroke-width="1.6"/>
<line x1="491.8" y1="173.8" x2="491.8" y2="187" stroke="#000" stroke-width="1.2"/>
<line x1="488.3" y1="173.8" x2="495.3" y2="173.8" stroke="#000" stroke-width="1.6"/>
<line x1="488.3" y1="187" x2="495.3" y2="187" stroke="#000" stroke-width="1.6"/>
<line x1="511.2" y1="47.8" x2="511.2" y2="57.7" stroke="#000" stroke-width="1.2"/>
<line x1="507.7" y1="47.8" x2="514.7" y2="47.8" stroke="#000" stroke-width="1.6"/>
<line x1="507.7" y1="57.7" x2="514.7" y2="57.7" stroke="#000" stroke-width="1.6"/>
<line x1="511.2" y1="170.8" x2="511.2" y2="188.9" stroke="#000" stroke-width="1.2"/>
<line x1="507.7" y1="170.8" x2="514.7" y2="170.8" stroke="#000" stroke-width="1.6"/>
<line x1="507.7" y1="188.9" x2="514.7" y2="188.9" stroke="#000" stroke-width="1.6"/>
<rect x="306.9" y="48.87" width="7.4" height="7.4" fill="#000"/>
<rect x="346.9" y="44.84" width="7.4" height="7.4" fill="#000"/>
<rect x="407.5" y="42.3" width="7.4" height="7.4" fill="#000"/>
<rect x="427.3" y="43.19" width="7.4" height="7.4" fill="#000"/>
<rect x="446.7" y="40.37" width="7.4" height="7.4" fill="#000"/>
<rect x="467.1" y="48.6" width="7.4" height="7.4" fill="#000"/>
<rect x="488.1" y="45.51" width="7.4" height="7.4" fill="#000"/>
<rect x="306.9" y="66.08" width="7.4" height="7.4" fill="#000"/>
<rect x="346.9" y="68.09" width="7.4" height="7.4" fill="#000"/>
<rect x="407.5" y="66.75" width="7.4" height="7.4" fill="#000"/>
<rect x="427.3" y="67.42" width="7.4" height="7.4" fill="#000"/>
<rect x="446.7" y="65.1" width="7.4" height="7.4" fill="#000"/>
<rect x="467.1" y="66.75" width="7.4" height="7.4" fill="#000"/>
<rect x="488.1" y="65.99" width="7.4" height="7.4" fill="#000"/>
<rect x="507.5" y="67.51" width="7.4" height="7.4" fill="#000"/>
<circle cx="310.6" cy="71.35" r="3.7" fill="#000"/>
<circle cx="350.6" cy="69.78" r="3.7" fill="#000"/>
<circle cx="411.2" cy="70.9" r="3.7" fill="#000"/>
<circle cx="431" cy="70.9" r="3.7" fill="#000"/>
<circle cx="450.4" cy="69.56" r="3.7" fill="#000"/>
<circle cx="470.8" cy="70.68" r="3.7" fill="#000"/>
<circle cx="491.8" cy="70.01" r="3.7" fill="#000"/>
<circle cx="511.2" cy="71.12" r="3.7" fill="#000"/>
<rect x="307.5" y="44.1" width="6.2" height="6.2" fill="#fff" stroke="#000" stroke-width="1.2"/>
<rect x="347.5" y="49.92" width="6.2" height="6.2" fill="#fff" stroke="#000" stroke-width="1.2"/>
<rect x="408.1" y="98.65" width="6.2" height="6.2" fill="#fff" stroke="#000" stroke-width="1.2"/>
<rect x="427.9" y="139.78" width="6.2" height="6.2" fill="#fff" stroke="#000" stroke-width="1.2"/>
<rect x="447.3" y="161.69" width="6.2" height="6.2" fill="#fff" stroke="#000" stroke-width="1.2"/>
<rect x="467.7" y="174.88" width="6.2" height="6.2" fill="#fff" stroke="#000" stroke-width="1.2"/>
<rect x="488.7" y="177.88" width="6.2" height="6.2" fill="#fff" stroke="#000" stroke-width="1.2"/>
<rect x="508.1" y="177.21" width="6.2" height="6.2" fill="#fff" stroke="#000" stroke-width="1.2"/>
<circle cx="310.6" cy="62.85" r="2.9" fill="#fff" stroke="#000" stroke-width="1.2"/>
<circle cx="350.6" cy="61.96" r="2.9" fill="#fff" stroke="#000" stroke-width="1.2"/>
<circle cx="411.2" cy="92.36" r="2.9" fill="#fff" stroke="#000" stroke-width="1.2"/>
<circle cx="431" cy="137.3" r="2.9" fill="#fff" stroke="#000" stroke-width="1.2"/>
<circle cx="450.4" cy="160.41" r="2.9" fill="#fff" stroke="#000" stroke-width="1.2"/>
<circle cx="470.8" cy="175.97" r="2.9" fill="#fff" stroke="#000" stroke-width="1.2"/>
<circle cx="491.8" cy="180.98" r="2.9" fill="#fff" stroke="#000" stroke-width="1.2"/>
<circle cx="511.2" cy="179.99" r="2.9" fill="#fff" stroke="#000" stroke-width="1.2"/>
<polygon points="310.6,50.41 313.8,56.81 307.4,56.81" fill="#fff" stroke="#000" stroke-width="1.2"/>
<polygon points="350.6,45.04 353.8,51.44 347.4,51.44" fill="#fff" stroke="#000" stroke-width="1.2"/>
<polygon points="411.2,58.01 414.4,64.41 408,64.41" fill="#fff" stroke="#000" stroke-width="1.2"/>
<polygon points="431,150.12 434.2,156.52 427.8,156.52" fill="#fff" stroke="#000" stroke-width="1.2"/>
<polygon points="450.4,165.5 453.6,171.9 447.2,171.9" fill="#fff" stroke="#000" stroke-width="1.2"/>
<polygon points="470.8,174.48 474,180.88 467.6,180.88" fill="#fff" stroke="#000" stroke-width="1.2"/>
<polygon points="491.8,177.48 495,183.88 488.6,183.88" fill="#fff" stroke="#000" stroke-width="1.2"/>
<polygon points="511.2,176.81 514.4,183.21 508,183.21" fill="#fff" stroke="#000" stroke-width="1.2"/>
</svg></body></html>
